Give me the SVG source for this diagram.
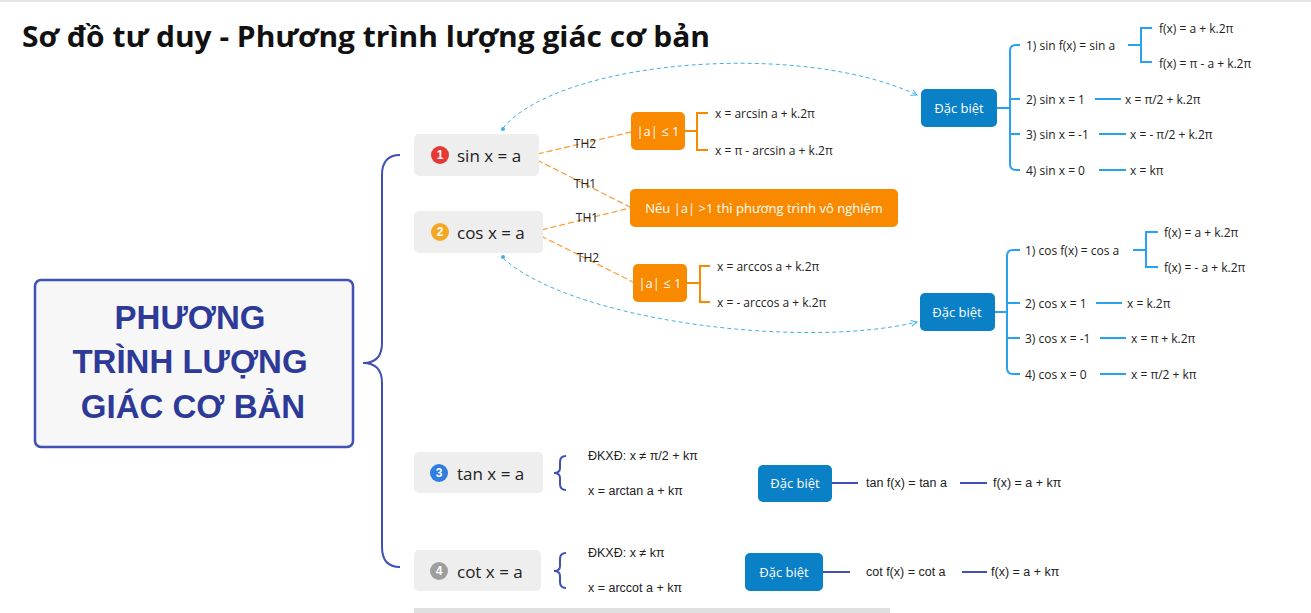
<svg xmlns="http://www.w3.org/2000/svg" width="1311" height="613" viewBox="0 0 1311 613">
<defs>
<style>
.t{font-family:"Open Sans","Liberation Sans",sans-serif;font-size:12px;fill:#222;dominant-baseline:central}
.n{font-family:"Open Sans","Liberation Sans",sans-serif;font-size:17px;fill:#222;dominant-baseline:central}
.w{font-family:"Open Sans","Liberation Sans",sans-serif;font-size:13px;fill:#fff;dominant-baseline:central;text-anchor:middle}
.c{font-family:"Liberation Sans Narrow","Liberation Sans",sans-serif;font-size:12.5px;fill:#222;dominant-baseline:central}
.g{fill:#eeeeee}
.o{fill:#f98a00}
.b{fill:#0a80c6}
.ic{font-family:"Liberation Sans",sans-serif;font-size:12px;font-weight:bold;fill:#fff;text-anchor:middle;dominant-baseline:central}
.ol{stroke:#f98a00;stroke-width:2;fill:none}
.od{stroke:#f9a040;stroke-width:1.3;fill:none;stroke-dasharray:6 3}
.bl{stroke:#27a2ee;stroke-width:2;fill:none}
.pl{stroke:#3f51b5;stroke-width:2;fill:none}
.bd{stroke:#3fb0ea;stroke-width:1;fill:none;stroke-dasharray:4 3}
</style>
<marker id="ar" markerWidth="8" markerHeight="8" refX="7" refY="4" orient="auto" markerUnits="userSpaceOnUse">
<path d="M1,1 L7,4 L1,7" fill="none" stroke="#3fb0ea" stroke-width="1"/>
</marker>
</defs>
<rect width="1311" height="613" fill="#fff"/>
<line x1="0" y1="1" x2="1311" y2="1" stroke="#e6e6e6" stroke-width="2"/>
<rect x="414" y="608" width="476" height="5" fill="#e0e0e0"/>
<text x="22" y="47" font-family="'Open Sans','Liberation Sans',sans-serif" font-size="28" font-weight="bold" fill="#111" textLength="688" lengthAdjust="spacingAndGlyphs">Sơ đồ tư duy - Phương trình lượng giác cơ bản</text>

<g id="connectors">
<path class="pl" d="M400,155 Q382,155 382,175 L382,343 Q382,363 363,363 Q382,363 382,383 L382,547 Q382,567 400,567"/>
<path class="od" d="M529,156 L631,132"/>
<path class="od" d="M529,156 L630,207"/>
<path class="od" d="M533,232 L630,208"/>
<path class="od" d="M533,232 L633,282"/>
<path class="ol" d="M685,131 L697,131 M708,113 L697,113 L697,150 L708,150"/>
<path class="ol" d="M687,283 L700,283 M710,266 L700,266 L700,302 L710,302"/>
<circle cx="529" cy="156" r="2.5" fill="#f98a00"/>
<circle cx="533" cy="232" r="2.5" fill="#f98a00"/>
<path class="bd" d="M503,128 C560,60 800,40 917,95" marker-end="url(#ar)"/>
<circle cx="503" cy="129" r="2" fill="#3fb0ea"/>
<path class="bd" d="M503,258 C570,320 800,350 917,322" marker-end="url(#ar)"/>
<circle cx="503" cy="257" r="2" fill="#3fb0ea"/>
<path class="bl" d="M997,108 L1010,108 M1020,45 L1016,45 Q1010,45 1010,51 L1010,164 Q1010,170 1016,170 L1020,170 M1010,99 L1020,99 M1010,134 L1020,134"/>
<path class="bl" d="M1128,45 L1141,45 M1152,28 L1141,28 L1141,62 L1152,62"/>
<path class="bl" d="M1095,99 L1121,99 M1099,134 L1126,134 M1099,170 L1126,170"/>
<path class="bl" d="M995,312 L1007,312 M1020,250 L1013,250 Q1007,250 1007,256 L1007,368 Q1007,374 1013,374 L1020,374 M1007,303 L1020,303 M1007,338 L1020,338"/>
<path class="bl" d="M1133,250 L1146,250 M1158,232 L1146,232 L1146,267 L1158,267"/>
<path class="bl" d="M1096,303 L1122,303 M1100,338 L1126,338 M1100,374 L1126,374"/>
<path class="pl" d="M566,456 Q560,456 560,462 L560,468 Q560,473 554,473 Q560,473 560,478 L560,484 Q560,490 566,490"/>
<path class="pl" d="M566,553 Q560,553 560,559 L560,566 Q560,571 554,571 Q560,571 560,576 L560,582 Q560,588 566,588"/>
<path class="pl" d="M832,483 L858,483 M960,483 L987,483"/>
<path class="pl" d="M823,572 L850,572 M962,572 L987,572"/>
</g>
<g font-family="'Open Sans','Liberation Sans',sans-serif" font-size="12" fill="#222" text-anchor="middle" dominant-baseline="central">
<text x="585" y="143">TH2</text>
<text x="585" y="183">TH1</text>
<text x="587" y="217">TH1</text>
<text x="588" y="257">TH2</text>
</g>

<g id="main">
<rect x="35" y="280" width="318" height="167" rx="6" fill="#f7f7f7" stroke="#3f51b5" stroke-width="2.5"/>
<g font-family="'Liberation Sans',sans-serif" font-size="33" font-weight="bold" fill="#2e3a97" text-anchor="middle">
<text x="190" y="329">PHƯƠNG</text>
<text x="190" y="373">TRÌNH LƯỢNG</text>
<text x="193" y="418">GIÁC CƠ BẢN</text>
</g>
</g>

<g id="n-sin">
<rect class="g" x="414" y="134" width="125" height="42" rx="5"/>
<circle cx="440" cy="155" r="9" fill="#e53935"/><text class="ic" x="440" y="155">1</text>
<text class="n" x="457" y="155">sin x = a</text>
</g>
<g id="n-cos">
<rect class="g" x="414" y="211" width="129" height="42" rx="5"/>
<circle cx="440" cy="232" r="9" fill="#f5a623"/><text class="ic" x="440" y="232">2</text>
<text class="n" x="457" y="232">cos x = a</text>
</g>
<g id="n-tan">
<rect class="g" x="414" y="452" width="129" height="41" rx="5"/>
<circle cx="439" cy="473" r="9" fill="#2f7de1"/><text class="ic" x="439" y="473">3</text>
<text class="n" x="457" y="473">tan x = a</text>
</g>
<g id="n-cot">
<rect class="g" x="414" y="550" width="127" height="41" rx="5"/>
<circle cx="439" cy="571" r="9" fill="#9e9e9e"/><text class="ic" x="439" y="571">4</text>
<text class="n" x="457" y="571">cot x = a</text>
</g>

<g id="o-sin">
<rect class="o" x="631" y="112" width="54" height="38" rx="5"/>
<text class="w" x="658" y="131">|a| ≤ 1</text>
<text class="t" x="715" y="113">x = arcsin a + k.2π</text>
<text class="t" x="715" y="150">x = π - arcsin a + k.2π</text>
</g>
<g id="o-none">
<rect class="o" x="630" y="189" width="268" height="38" rx="5"/>
<text class="w" x="764" y="208">Nếu |a| &gt;1 thì phương trình vô nghiệm</text>
</g>
<g id="o-cos">
<rect class="o" x="633" y="264" width="54" height="38" rx="5"/>
<text class="w" x="660" y="283">|a| ≤ 1</text>
<text class="t" x="717" y="266">x = arccos a + k.2π</text>
<text class="t" x="717" y="302">x = - arccos a + k.2π</text>
</g>

<g id="sp-sin">
<rect class="b" x="921" y="89" width="76" height="38" rx="5"/>
<text class="w" x="959" y="108">Đặc biệt</text>
<text class="t" x="1026" y="45">1) sin f(x) = sin a</text>
<text class="t" x="1159" y="28">f(x) = a + k.2π</text>
<text class="t" x="1159" y="63">f(x) = π - a + k.2π</text>
<text class="t" x="1026" y="99">2) sin x = 1</text>
<text class="t" x="1125" y="99">x = π/2  + k.2π</text>
<text class="t" x="1026" y="134">3) sin x = -1</text>
<text class="t" x="1130" y="134">x = - π/2  + k.2π</text>
<text class="t" x="1026" y="170">4) sin x = 0</text>
<text class="t" x="1130" y="170">x = kπ</text>
</g>
<g id="sp-cos">
<rect class="b" x="920" y="293" width="75" height="38" rx="5"/>
<text class="w" x="957" y="312">Đặc biệt</text>
<text class="t" x="1025" y="250">1) cos f(x) = cos a</text>
<text class="t" x="1164" y="232">f(x) = a + k.2π</text>
<text class="t" x="1164" y="267">f(x) = - a + k.2π</text>
<text class="t" x="1025" y="303">2) cos x = 1</text>
<text class="t" x="1127" y="303">x =  k.2π</text>
<text class="t" x="1025" y="338">3) cos x = -1</text>
<text class="t" x="1131" y="338">x = π + k.2π</text>
<text class="t" x="1025" y="374">4) cos x = 0</text>
<text class="t" x="1131" y="374">x = π/2 + kπ</text>
</g>
<g id="tan-detail">
<text class="c" x="588" y="456">ĐKXĐ: x ≠  π/2 + kπ</text>
<text class="c" x="588" y="491">x = arctan a + kπ</text>
<rect class="b" x="758" y="465" width="74" height="37" rx="5"/>
<text class="w" x="795" y="483">Đặc biệt</text>
<text class="c" x="866" y="483">tan f(x) = tan a</text>
<text class="c" x="993" y="483">f(x) = a + kπ</text>
</g>
<g id="cot-detail">
<text class="c" x="588" y="553">ĐKXĐ: x ≠  kπ</text>
<text class="c" x="588" y="588">x = arccot a + kπ</text>
<rect class="b" x="745" y="553" width="78" height="38" rx="5"/>
<text class="w" x="784" y="572">Đặc biệt</text>
<text class="c" x="866" y="572">cot f(x) = cot a</text>
<text class="c" x="991" y="572">f(x) = a + kπ</text>
</g>
</svg>
